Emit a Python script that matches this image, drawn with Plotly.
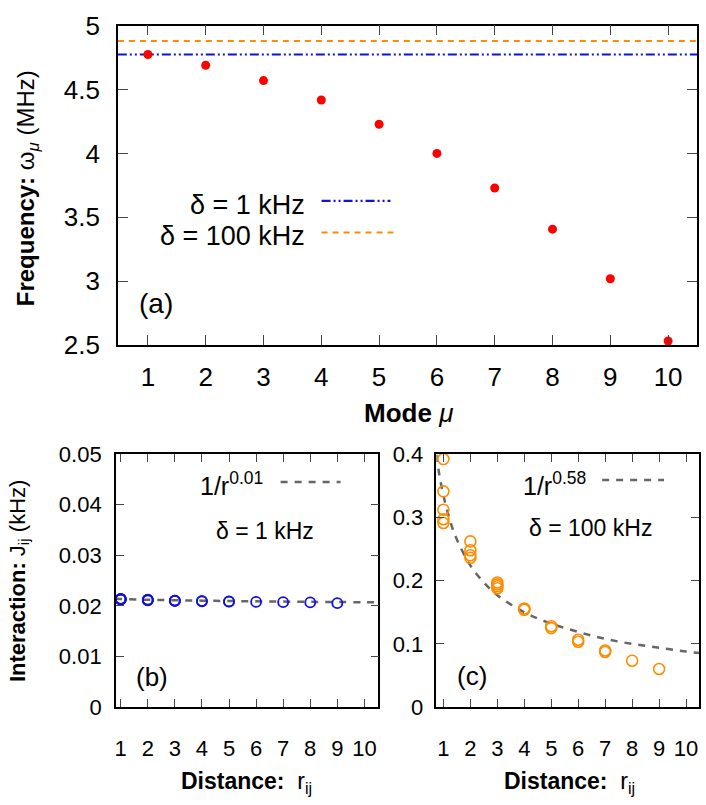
import plotly.graph_objects as go

# ---------------- data ----------------
modes = [1, 2, 3, 4, 5, 6, 7, 8, 9, 10]
freq_mhz = [4.774, 4.69, 4.57, 4.418, 4.228, 4.0, 3.73, 3.408, 3.02, 2.533]
delta_1khz_level = 4.774
delta_100khz_level = 4.88

dist_b = [1, 1, 1, 1, 1, 2, 2, 2, 2, 3, 3, 3, 4, 4, 5, 5, 6, 7, 8, 9]
J_b = [0.02140, 0.02136, 0.02132, 0.02128, 0.02125,
       0.02122, 0.02118, 0.02115, 0.02112,
       0.02105, 0.02102, 0.02099,
       0.02095, 0.02092, 0.02088, 0.02084,
       0.02080, 0.02075, 0.02070, 0.02055]
fit_b_r = [0.8, 1, 2, 3, 4, 5, 6, 7, 8, 9, 10, 10.6]
fit_b_J = [0.02140, 0.02137, 0.02122, 0.02112, 0.02104, 0.02097, 0.02091,
           0.02086, 0.02081, 0.02077, 0.02073, 0.02071]

dist_c = [1, 1, 1, 1, 1, 2, 2, 2, 2, 3, 3, 3, 3, 4, 4, 4, 5, 5, 6, 6, 7, 7, 8, 9]
J_c = [0.392, 0.341, 0.312, 0.297, 0.291,
       0.262, 0.248, 0.240, 0.236,
       0.197, 0.194, 0.191, 0.188,
       0.156, 0.155, 0.154,
       0.128, 0.125,
       0.1065, 0.1034,
       0.0897, 0.0872,
       0.0735, 0.0603]
fit_c_r = [0.74, 0.85, 1, 1.25, 1.5, 2, 2.5, 3, 4, 5, 6, 7, 8, 9, 10, 10.5]
fit_c_J = [0.399, 0.367, 0.335, 0.294, 0.265, 0.224, 0.197, 0.177, 0.150,
           0.132, 0.119, 0.108, 0.100, 0.094, 0.088, 0.0856]

xticks = [1, 2, 3, 4, 5, 6, 7, 8, 9, 10]

# ---------------- styling ----------------
FONT = "Liberation Sans"
RED = "#ff0000"
BLUE = "#1010e0"
ORANGE = "#ff8c00"
GRAY = "#666666"

W, H = 706, 805

def px(x):
    return x / W

def py(y):
    return 1 - y / H

fig = go.Figure()

# panel (a)
fig.add_trace(go.Scatter(x=[0.48, 10.5], y=[delta_100khz_level] * 2, mode="lines",
                         line=dict(color=ORANGE, width=2, dash="6px,5px"),
                         xaxis="x", yaxis="y", showlegend=False))
fig.add_trace(go.Scatter(x=[0.48, 10.5], y=[delta_1khz_level] * 2, mode="lines",
                         line=dict(color=BLUE, width=2.2, dash="9px,3px,2px,3px,2px,3px"),
                         xaxis="x", yaxis="y", showlegend=False))
fig.add_trace(go.Scatter(x=modes, y=freq_mhz, mode="markers",
                         marker=dict(color=RED, size=9),
                         xaxis="x", yaxis="y", showlegend=False))

# panel (b)
fig.add_trace(go.Scatter(x=fit_b_r, y=fit_b_J, mode="lines", line_shape="spline",
                         line=dict(color=GRAY, width=2.5, dash="7px,7px"),
                         xaxis="x2", yaxis="y2", showlegend=False))
fig.add_trace(go.Scatter(x=dist_b, y=J_b, mode="markers",
                         marker=dict(symbol="circle-open", color=BLUE, size=10,
                                     line=dict(width=1.8, color=BLUE)),
                         xaxis="x2", yaxis="y2", showlegend=False))

# panel (c)
fig.add_trace(go.Scatter(x=fit_c_r, y=fit_c_J, mode="lines", line_shape="spline",
                         line=dict(color=GRAY, width=2.5, dash="7px,7px"),
                         xaxis="x3", yaxis="y3", showlegend=False))
fig.add_trace(go.Scatter(x=dist_c, y=J_c, mode="markers",
                         marker=dict(symbol="circle-open", color=ORANGE, size=11,
                                     line=dict(width=1.6, color=ORANGE)),
                         xaxis="x3", yaxis="y3", showlegend=False))

axis_common = dict(showline=True, linecolor="black", linewidth=1.5, mirror="ticks",
                   ticks="inside", tickcolor="#444444", tickwidth=1.2,
                   showgrid=False, zeroline=False)

fig.update_layout(
    width=W, height=H, margin=dict(l=0, r=0, t=0, b=0),
    paper_bgcolor="white", plot_bgcolor="white",
    font=dict(family=FONT, color="black"),
    xaxis=dict(domain=[px(117), px(697)], range=[0.48, 10.5], tickvals=xticks,
               ticklen=10, tickfont=dict(size=26), ticklabelstandoff=8,
               anchor="y", **axis_common),
    yaxis=dict(domain=[py(343), py(11)], range=[2.5, 5], tickvals=[2.5, 3, 3.5, 4, 4.5, 5],
               ticktext=["2.5", "3", "3.5", "4", "4.5", "5"],
               ticklen=10, tickfont=dict(size=26), ticklabelstandoff=11,
               anchor="x", **axis_common),
    xaxis2=dict(domain=[px(115), px(378)], range=[0.82, 10.52], tickvals=xticks,
                ticklen=8, tickfont=dict(size=22), ticklabelstandoff=21,
                anchor="y2", **axis_common),
    yaxis2=dict(domain=[py(719), py(456)], range=[0, 0.05],
                tickvals=[0, 0.01, 0.02, 0.03, 0.04, 0.05],
                ticktext=["0", "0.01", "0.02", "0.03", "0.04", "0.05"],
                ticklen=8, tickfont=dict(size=22), ticklabelstandoff=8,
                anchor="x2", **axis_common),
    xaxis3=dict(domain=[px(436), px(699)], range=[0.74, 10.48], tickvals=xticks,
                ticklen=8, tickfont=dict(size=22), ticklabelstandoff=21,
                anchor="y3", **axis_common),
    yaxis3=dict(domain=[py(719), py(456)], range=[0, 0.4],
                tickvals=[0, 0.1, 0.2, 0.3, 0.4],
                ticktext=["0", "0.1", "0.2", "0.3", "0.4"],
                ticklen=8, tickfont=dict(size=22), ticklabelstandoff=7,
                anchor="x3", **axis_common),
)

ann = []

def add_text(x, y, text, size, xanchor="center", yanchor="middle", angle=0):
    ann.append(dict(x=px(x), y=py(y), xref="paper", yref="paper", text=text,
                    showarrow=False, xanchor=xanchor, yanchor=yanchor,
                    textangle=angle, font=dict(size=size, family=FONT, color="black")))

# axis titles
add_text(26, 180, "<b>Frequency:</b> ω<sub><i>μ</i></sub> (MHz)", 24, angle=-90)
add_text(408, 413, "<b>Mode</b> <i>μ</i>", 26)
add_text(18, 588, "<b>Interaction:</b> J<sub>ij</sub> (kHz)", 22, angle=-90)
add_text(246, 797, "<b>Distance:</b>  r<sub>ij</sub>", 23)
add_text(569, 797, "<b>Distance:</b>  r<sub>ij</sub>", 23)

# panel labels
add_text(155, 300, "(a)", 28)
add_text(151, 688, "(b)", 26)
add_text(472, 687, "(c)", 26)

# legend texts
add_text(306, 197, "δ = 1 kHz", 27, xanchor="right")
add_text(306, 230, "δ = 100 kHz", 27, xanchor="right")
add_text(264, 487, "1/r<sup>0.01</sup>", 25, xanchor="right")
add_text(264, 536, "δ = 1 kHz", 23)
add_text(588, 487, "1/r<sup>0.58</sup>", 25, xanchor="right")
add_text(590, 533, "δ = 100 kHz", 23)

fig.update_layout(annotations=ann)

# legend sample lines
shapes = [
    dict(type="line", xref="paper", yref="paper", x0=px(321), x1=px(390), y0=py(193), y1=py(193),
         line=dict(color=BLUE, width=2.2, dash="9px,3px,2px,3px,2px,3px")),
    dict(type="line", xref="paper", yref="paper", x0=px(321), x1=px(393), y0=py(226), y1=py(226),
         line=dict(color=ORANGE, width=2, dash="6px,5px")),
    dict(type="line", xref="paper", yref="paper", x0=px(280), x1=px(340), y0=py(485), y1=py(485),
         line=dict(color=GRAY, width=2.5, dash="7px,7px")),
    dict(type="line", xref="paper", yref="paper", x0=px(602), x1=px(664), y0=py(483), y1=py(483),
         line=dict(color=GRAY, width=2.5, dash="7px,7px")),
]
fig.update_layout(shapes=shapes)

fig.write_html("out.html")
